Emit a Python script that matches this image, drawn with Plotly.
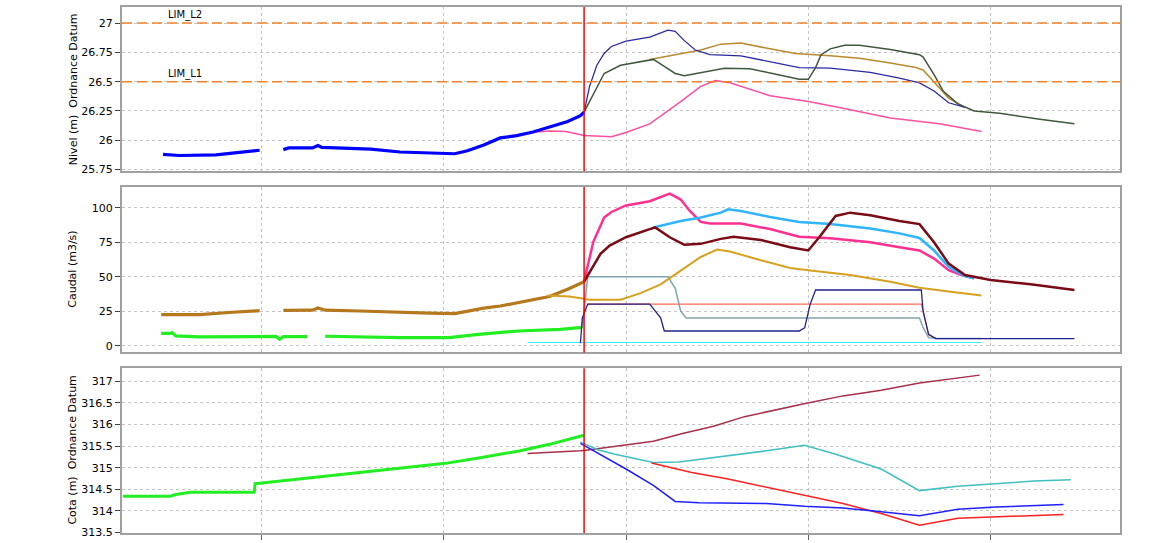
import plotly.graph_objects as go

# ---------------- data (x in days, gridline every day) ----------------
forecast_start = 2.77
limit_values = [27.0, 26.5]
limit_names = ["LIM_L2", "LIM_L1"]

# Panel 1 : Nivel
lvl_obs1_x = [0.46, 0.55, 0.75, 0.83, 0.91, 0.99]
lvl_obs1_y = [25.88, 25.87, 25.875, 25.89, 25.90, 25.915]
lvl_obs2_x = [1.12, 1.15, 1.28, 1.31, 1.33, 1.49, 1.60, 1.76, 1.92, 2.06, 2.13, 2.22, 2.31, 2.40, 2.49, 2.58, 2.68, 2.75, 2.77]
lvl_obs2_y = [25.92, 25.935, 25.935, 25.955, 25.94, 25.935, 25.925, 25.90, 25.89, 25.885, 25.91, 25.96, 26.02, 26.04, 26.07, 26.11, 26.16, 26.21, 26.24]
lvl_pink_x = [2.51, 2.58, 2.67, 2.77, 2.86, 2.92, 3.00, 3.13, 3.30, 3.41, 3.49, 3.57, 3.79, 4.00, 4.17, 4.45, 4.72, 4.95]
lvl_pink_y = [26.07, 26.08, 26.075, 26.04, 26.035, 26.03, 26.066, 26.14, 26.33, 26.46, 26.51, 26.49, 26.38, 26.33, 26.28, 26.19, 26.14, 26.075]
lvl_navy_x = [2.77, 2.80, 2.84, 2.88, 2.92, 3.00, 3.13, 3.23, 3.27, 3.32, 3.38, 3.46, 3.63, 3.79, 3.95, 4.12, 4.34, 4.50, 4.61, 4.69, 4.77, 4.86]
lvl_navy_y = [26.24, 26.46, 26.64, 26.74, 26.80, 26.846, 26.88, 26.94, 26.93, 26.85, 26.77, 26.73, 26.72, 26.67, 26.62, 26.616, 26.58, 26.53, 26.49, 26.42, 26.32, 26.28]
lvl_brown_x = [3.13, 3.41, 3.52, 3.63, 3.79, 3.93, 4.12, 4.28, 4.45, 4.59, 4.63, 4.69, 4.77, 4.86]
lvl_brown_y = [26.69, 26.77, 26.82, 26.83, 26.78, 26.74, 26.72, 26.70, 26.66, 26.62, 26.60, 26.50, 26.36, 26.28]
lvl_green_x = [2.77, 2.83, 2.88, 2.97, 3.08, 3.15, 3.21, 3.27, 3.32, 3.43, 3.54, 3.68, 3.82, 3.95, 4.00, 4.04, 4.07, 4.12, 4.20, 4.28, 4.45, 4.61, 4.63, 4.69, 4.74, 4.82, 4.91, 5.05, 5.27, 5.46]
lvl_green_y = [26.24, 26.42, 26.57, 26.64, 26.67, 26.69, 26.63, 26.57, 26.55, 26.58, 26.615, 26.61, 26.565, 26.52, 26.52, 26.62, 26.73, 26.78, 26.81, 26.81, 26.775, 26.73, 26.71, 26.56, 26.42, 26.31, 26.25, 26.23, 26.18, 26.14]

# Panel 2 : Caudal
q_brown1_x = [0.45, 0.66, 0.84, 0.99]
q_brown1_y = [22.6, 22.6, 24.3, 25.4]
q_brown2_x = [1.12, 1.28, 1.31, 1.35, 1.54, 1.76, 1.92, 2.06, 2.13, 2.22, 2.31, 2.40, 2.49, 2.58, 2.68, 2.77]
q_brown2_y = [25.7, 25.8, 27.4, 25.8, 25.2, 24.0, 23.6, 23.3, 25.0, 27.3, 28.8, 31.0, 33.3, 35.7, 40.9, 46.4]
q_green1_x = [0.45, 0.50, 0.51, 0.53, 0.66, 0.99, 1.08, 1.10, 1.12, 1.25]
q_green1_y = [9.0, 9.0, 9.6, 7.2, 6.4, 7.0, 6.8, 4.7, 6.6, 6.6]
q_green2_x = [1.35, 1.76, 2.03, 2.19, 2.41, 2.64, 2.76]
q_green2_y = [6.9, 5.9, 5.9, 8.3, 10.7, 11.9, 13.4]
q_pink_x = [2.77, 2.82, 2.88, 2.92, 3.00, 3.13, 3.24, 3.30, 3.35, 3.41, 3.46, 3.63, 3.79, 3.95, 4.12, 4.34, 4.50, 4.61, 4.69, 4.77, 4.84, 4.91]
q_pink_y = [46.4, 75, 92.9, 96.9, 101.6, 104.7, 110.2, 105.9, 97.6, 89.7, 88.6, 88.6, 84.5, 79, 77.9, 75, 71.4, 69, 63.1, 54.7, 51.2, 48.8]
q_lblue_x = [3.15, 3.30, 3.41, 3.52, 3.56, 3.63, 3.79, 3.95, 4.12, 4.34, 4.50, 4.61, 4.69, 4.77, 4.86, 4.91]
q_lblue_y = [85.7, 90.4, 92.9, 96.4, 98.8, 97.6, 93.3, 89.7, 88.1, 85, 81.4, 78.1, 69, 57.1, 50.4, 48.8]
q_maroon_x = [2.77, 2.86, 2.91, 3.00, 3.13, 3.16, 3.24, 3.32, 3.41, 3.52, 3.59, 3.74, 3.90, 4.00, 4.06, 4.15, 4.23, 4.34, 4.50, 4.61, 4.69, 4.77, 4.86, 5.00, 5.22, 5.46]
q_maroon_y = [46.4, 66.6, 72.6, 78.6, 84.5, 85.7, 78.6, 73.1, 73.8, 77.4, 79, 76.6, 71.4, 69, 78.6, 94, 96.4, 94.5, 90.4, 88.1, 75, 59.5, 51.2, 47.6, 44.5, 40.4]
q_gold_x = [2.57, 2.69, 2.77, 2.80, 2.97, 3.08, 3.19, 3.30, 3.41, 3.50, 3.57, 3.74, 3.90, 4.00, 4.23, 4.45, 4.61, 4.77, 4.95]
q_gold_y = [36.4, 35.7, 34.0, 33.3, 33.3, 38.1, 44.5, 54.7, 64.3, 69.7, 68.3, 61.9, 56.4, 54.7, 51.2, 46.4, 42.1, 39.3, 36.4]
q_grey_x = [2.76, 2.79, 3.23, 3.27, 3.30, 3.33, 4.61, 4.63, 4.66, 4.70, 4.95]
q_grey_y = [13.0, 50.0, 50.0, 41.6, 25.0, 20.2, 20.2, 13.1, 5.9, 5.2, 5.2]
q_navy_x = [2.75, 2.76, 2.79, 3.13, 3.19, 3.21, 3.95, 3.98, 4.01, 4.04, 4.62, 4.63, 4.66, 4.70, 5.46]
q_navy_y = [1.9, 20, 30.2, 30.2, 20.2, 10.7, 10.7, 13, 30, 40.4, 40.4, 25, 8.3, 5.2, 5.2]
q_salmon_x = [2.79, 4.62, 4.66, 4.70]
q_salmon_y = [30.2, 30.2, 8.0, 5.2]
q_cyan_x = [2.46, 4.95]
q_cyan_y = [2.4, 2.4]

# Panel 3 : Cota
c_green_x = [0.24, 0.50, 0.53, 0.61, 0.96, 0.965, 0.99, 1.21, 1.49, 1.76, 2.01, 2.20, 2.42, 2.58, 2.77]
c_green_y = [314.34, 314.34, 314.38, 314.43, 314.43, 314.63, 314.64, 314.74, 314.85, 314.98, 315.10, 315.23, 315.39, 315.54, 315.75]
c_rose_x = [2.46, 2.58, 2.75, 2.77, 3.00, 3.15, 3.31, 3.48, 3.65, 3.82, 3.99, 4.19, 4.40, 4.61, 4.78, 4.94]
c_rose_y = [315.33, 315.35, 315.39, 315.40, 315.52, 315.61, 315.79, 315.96, 316.18, 316.34, 316.49, 316.66, 316.79, 316.96, 317.06, 317.14]
c_teal_x = [2.75, 2.85, 2.94, 3.15, 3.29, 3.48, 3.77, 3.98, 4.15, 4.40, 4.61, 4.82, 5.03, 5.24, 5.44]
c_teal_y = [315.59, 315.41, 315.31, 315.12, 315.13, 315.23, 315.39, 315.52, 315.31, 314.97, 314.47, 314.57, 314.63, 314.69, 314.72]
c_red_x = [3.14, 3.36, 3.56, 3.77, 3.98, 4.19, 4.40, 4.61, 4.82, 5.03, 5.40]
c_red_y = [315.11, 314.89, 314.74, 314.55, 314.36, 314.17, 313.94, 313.67, 313.83, 313.86, 313.92]
c_blue_x = [2.75, 3.00, 3.15, 3.27, 3.40, 3.77, 3.98, 4.19, 4.40, 4.61, 4.82, 5.03, 5.40]
c_blue_y = [315.56, 314.97, 314.59, 314.22, 314.19, 314.17, 314.11, 314.07, 313.98, 313.89, 314.04, 314.09, 314.15]

# tick labels
x_ticks = [1, 2, 3, 4, 5]
nivel_ticks = [25.75, 26, 26.25, 26.5, 26.75, 27]
nivel_labels = ["25.75", "26", "26.25", "26.5", "26.75", "27"]
caudal_ticks = [0, 25, 50, 75, 100]
caudal_labels = ["0", "25", "50", "75", "100"]
cota_ticks = [313.5, 314, 314.5, 315, 315.5, 316, 316.5, 317]
cota_labels = ["313.5", "314", "314.5", "315", "315.5", "316", "316.5", "317"]
titles = ["Nivel (m)  Ordnance Datum", "Caudal (m3/s)", "Cota (m)  Ordnance Datum"]

# ---------------- figure ----------------
fig = go.Figure()

def add(x, y, color, width, axis):
    fig.add_trace(go.Scatter(x=x, y=y, mode="lines", line=dict(color=color, width=width),
                             xaxis="x" if axis == 1 else "x%d" % axis,
                             yaxis="y" if axis == 1 else "y%d" % axis,
                             showlegend=False, hoverinfo="skip"))

# panel 1
add(lvl_pink_x, lvl_pink_y, "#FF4FA0", 1.5, 1)
add(lvl_obs1_x, lvl_obs1_y, "#0000FF", 3.2, 1)
add(lvl_obs2_x, lvl_obs2_y, "#0000FF", 3.2, 1)
add(lvl_brown_x, lvl_brown_y, "#B98A30", 1.5, 1)
add(lvl_navy_x, lvl_navy_y, "#2A2AA8", 1.3, 1)
add(lvl_green_x, lvl_green_y, "#3E583E", 1.5, 1)

# panel 2
add(q_brown1_x, q_brown1_y, "#B5781C", 3.2, 2)
add(q_brown2_x, q_brown2_y, "#B5781C", 3.2, 2)
add(q_green1_x, q_green1_y, "#22EE22", 3.2, 2)
add(q_green2_x, q_green2_y, "#22EE22", 3.2, 2)
add(q_cyan_x, q_cyan_y, "#30EEF0", 1.2, 2)
add(q_salmon_x, q_salmon_y, "#FF6A50", 1.2, 2)
add(q_grey_x, q_grey_y, "#82A4AC", 1.5, 2)
add(q_navy_x, q_navy_y, "#22228E", 1.3, 2)
add(q_gold_x, q_gold_y, "#D8A020", 2, 2)
add(q_pink_x, q_pink_y, "#FF3090", 2.5, 2)
add(q_lblue_x, q_lblue_y, "#30B4FF", 2.5, 2)
add(q_maroon_x, q_maroon_y, "#7A0A14", 2.5, 2)

# panel 3
add(c_green_x, c_green_y, "#22EE22", 3, 3)
add(c_rose_x, c_rose_y, "#A8304C", 1.5, 3)
add(c_teal_x, c_teal_y, "#40C0C0", 1.5, 3)
add(c_red_x, c_red_y, "#FF2020", 1.5, 3)
add(c_blue_x, c_blue_y, "#2020FF", 1.5, 3)

# limit lines and labels
for val, name in zip(limit_values, limit_names):
    fig.add_shape(type="line", xref="x domain", yref="y", x0=0, x1=1, y0=val, y1=val,
                  line=dict(color="#F5822A", width=1.5, dash="10px,5px"), layer="above")
    fig.add_annotation(x=0.476, y=val, xref="x", yref="y", text=name, showarrow=False,
                       xanchor="left", yanchor="bottom", yshift=0,
                       font=dict(family="DejaVu Sans", size=10, color="#000000"))

# forecast start red lines
for ax in ["", "2", "3"]:
    fig.add_shape(type="line", xref="x" + ax, yref="y%s domain" % ax,
                  x0=forecast_start, x1=forecast_start, y0=0, y1=1,
                  line=dict(color="#FF0000", width=1.5), layer="above")

domains = [[0.6876, 1.0], [0.3433, 0.6576], [0.0, 0.3133]]
ranges = [[25.735, 27.137], [-4.8, 114.9], [313.49, 317.3]]
ticks = [(nivel_ticks, nivel_labels), (caudal_ticks, caudal_labels), (cota_ticks, cota_labels)]

axis_font = dict(family="DejaVu Sans", size=11, color="#000000")
layout = {}
for i in range(3):
    sfx = "" if i == 0 else str(i + 1)
    layout["xaxis" + sfx] = dict(
        domain=[0, 1], range=[0.235, 5.71], anchor="y" + sfx,
        tickvals=x_ticks, showticklabels=False,
        ticks="outside" if i == 2 else "", ticklen=5, tickcolor="#606060",
        showgrid=True, gridcolor="#C4C4C4", griddash="dot", gridwidth=1,
        showline=True, linecolor="#A0A0A0", linewidth=2, mirror=True,
        zeroline=False, matches=None if i == 0 else "x")
    layout["yaxis" + sfx] = dict(
        domain=domains[i], range=ranges[i], anchor="x" + sfx,
        tickvals=ticks[i][0], ticktext=ticks[i][1], tickfont=axis_font,
        ticks="outside", ticklen=5, tickcolor="#404040",
        showgrid=True, gridcolor="#C4C4C4", griddash="dot", gridwidth=1,
        showline=True, linecolor="#A0A0A0", linewidth=2, mirror=True,
        zeroline=False)

fig.update_layout(**layout)

for i, t in enumerate(titles):
    sfx = "" if i == 0 else str(i + 1)
    fig.add_annotation(x=0, y=0.5, xref="paper", yref="y%s domain" % sfx, text=t,
                       showarrow=False, textangle=-90, xanchor="center", yanchor="middle",
                       xshift=-49, font=dict(family="DejaVu Sans", size=11, color="#000000"))

fig.update_layout(width=1174, height=543, margin=dict(l=122, r=54, t=5, b=5),
                  paper_bgcolor="#FFFFFF", plot_bgcolor="#FFFFFF", showlegend=False)

fig.write_html("out.html", config={"displayModeBar": False},
               post_script="document.body.style.margin='0';document.body.style.padding='0';"
                           "document.body.style.overflow='hidden';")
